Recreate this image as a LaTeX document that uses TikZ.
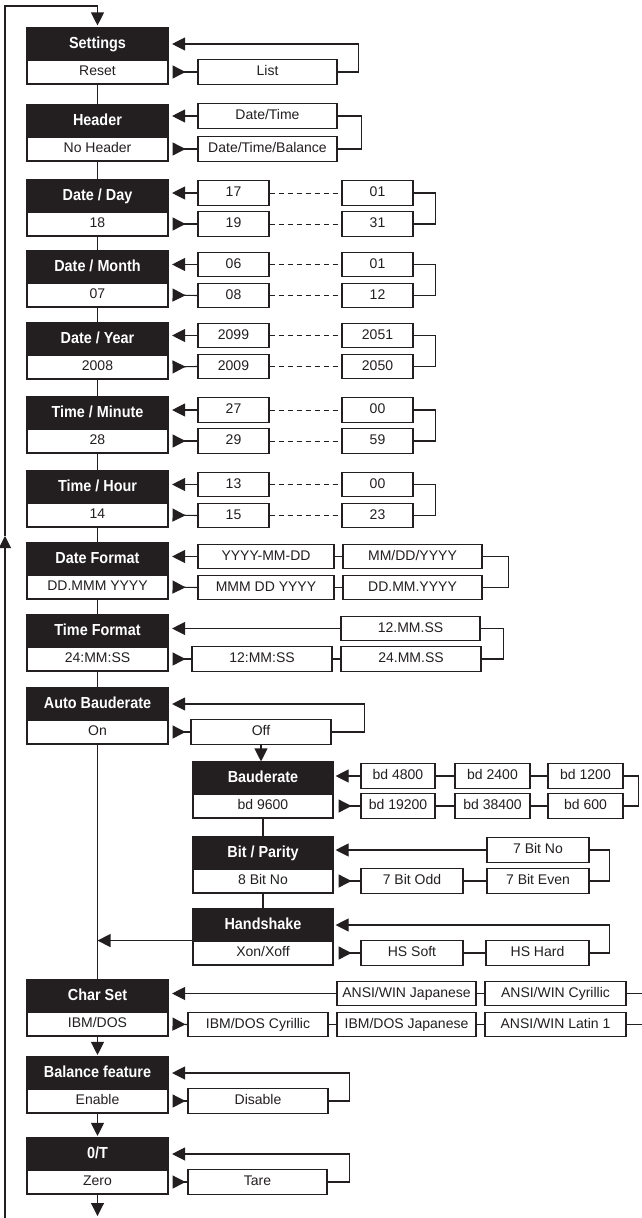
\documentclass[tikz,border=0pt]{standalone}
\usepackage{fontspec}
\setmainfont{Liberation Sans}
\newfontfamily\hdrfamily[FakeStretch=0.9]{Liberation Sans}
\usetikzlibrary{arrows.meta}
\definecolor{ink}{RGB}{35,31,32}
\begin{document}
\begin{tikzpicture}[x=1pt,y=-1pt,line width=1.1pt,color=ink,
  hdr/.style={fill=ink,draw=ink,text=white,font=\hdrfamily\bfseries\fontsize{16}{19}\selectfont,
    minimum height=32pt,inner sep=0pt,text height=11.5pt,text depth=3pt},
  val/.style={draw=ink,fill=white,text=ink,font=\fontsize{14}{16}\selectfont,
    minimum height=24pt,inner sep=0pt,text height=10pt,text depth=3pt},
  opt/.style={val,minimum height=24.5pt},
  mainw/.style={minimum width=141pt},
  subw/.style={minimum width=140pt},
  w/.style={minimum width=#1},
  back/.style={-{Triangle[length=13pt,width=13pt]},shorten >=3.5pt},
  fwd/.style={{Triangle[reversed,length=13pt,width=13pt]}-,shorten <=4pt},
  downarr/.style={-{Triangle[length=13pt,width=13pt]},shorten >=1.5pt},
  dotline/.style={dash pattern=on 5pt off 4pt,line width=1pt}
]
\useasboundingbox (0,0) rectangle (642,1218);

% ---------- main column ----------
\node[hdr,mainw] (h0) at (97.5,44) {Settings};
\node[val,mainw] (v0) at (97.5,72) {Reset};
\node[hdr,mainw] (h1) at (97.5,121) {Header};
\node[val,mainw] (v1) at (97.5,149) {No Header};
\node[hdr,mainw] (h2) at (97.5,196) {Date / Day};
\node[val,mainw] (v2) at (97.5,224) {18};
\node[hdr,mainw] (h3) at (97.5,267) {Date / Month};
\node[val,mainw] (v3) at (97.5,295) {07};
\node[hdr,mainw] (h4) at (97.5,339) {Date / Year};
\node[val,mainw] (v4) at (97.5,367) {2008};
\node[hdr,mainw] (h5) at (97.5,413) {Time / Minute};
\node[val,mainw] (v5) at (97.5,441) {28};
\node[hdr,mainw] (h6) at (97.5,487) {Time / Hour};
\node[val,mainw] (v6) at (97.5,515) {14};
\node[hdr,mainw] (h7) at (97.5,559) {Date Format};
\node[val,mainw] (v7) at (97.5,587) {DD.MMM YYYY};
\node[hdr,mainw] (h8) at (97.5,631) {Time Format};
\node[val,mainw] (v8) at (97.5,659) {24:MM:SS};
\node[hdr,mainw] (h9) at (97.5,704) {Auto Bauderate};
\node[val,mainw] (v9) at (97.5,732) {On};
\node[hdr,mainw] (h10) at (97.5,996) {Char Set};
\node[val,mainw] (v10) at (97.5,1024) {IBM/DOS};
\node[hdr,mainw] (h11) at (97.5,1073) {Balance feature};
\node[val,mainw] (v11) at (97.5,1101) {Enable};
\node[hdr,mainw] (h12) at (97.5,1154) {0/T};
\node[val,mainw] (v12) at (97.5,1182) {Zero};

% ---------- sub column ----------
\node[hdr,subw] (s1h) at (263,778) {Bauderate};
\node[val,subw] (s1v) at (263,806) {bd 9600};
\node[hdr,subw] (s2h) at (263,853) {Bit / Parity};
\node[val,subw] (s2v) at (263,881) {8 Bit No};
\node[hdr,subw] (s3h) at (263,925) {Handshake};
\node[val,subw] (s3v) at (263,953) {Xon/Xoff};

% ---------- options ----------
\node[opt,w=139pt] (list) at (267.5,72) {List};
\node[opt,w=139pt] (dt) at (267.5,116) {Date/Time};
\node[opt,w=139pt] (dtb) at (267.5,149) {Date/Time/Balance};

\node[opt,w=71pt] (a2t) at (233.5,193) {17};
\node[opt,w=71pt] (b2t) at (377.5,193) {01};
\node[opt,w=71pt] (a2b) at (233.5,224) {19};
\node[opt,w=71pt] (b2b) at (377.5,224) {31};

\node[opt,w=71pt] (a3t) at (233.5,264.5) {06};
\node[opt,w=71pt] (b3t) at (377.5,264.5) {01};
\node[opt,w=71pt] (a3b) at (233.5,295.5) {08};
\node[opt,w=71pt] (b3b) at (377.5,295.5) {12};

\node[opt,w=71pt] (a4t) at (233.5,335.5) {2099};
\node[opt,w=71pt] (b4t) at (377.5,335.5) {2051};
\node[opt,w=71pt] (a4b) at (233.5,366.5) {2009};
\node[opt,w=71pt] (b4b) at (377.5,366.5) {2050};

\node[opt,w=71pt] (a5t) at (233.5,410) {27};
\node[opt,w=71pt] (b5t) at (377.5,410) {00};
\node[opt,w=71pt] (a5b) at (233.5,441) {29};
\node[opt,w=71pt] (b5b) at (377.5,441) {59};

\node[opt,w=71pt] (a6t) at (233.5,484.5) {13};
\node[opt,w=71pt] (b6t) at (377.5,484.5) {00};
\node[opt,w=71pt] (a6b) at (233.5,515.5) {15};
\node[opt,w=71pt] (b6b) at (377.5,515.5) {23};

\node[opt,w=136pt] (y1) at (266,556.5) {YYYY-MM-DD};
\node[opt,w=139pt] (m1) at (412.5,556.5) {MM/DD/YYYY};
\node[opt,w=136pt] (m2) at (266,587.5) {MMM DD YYYY};
\node[opt,w=139pt] (d2) at (412.5,587.5) {DD.MM.YYYY};

\node[opt,w=139pt] (t1) at (410.5,628.5) {12.MM.SS};
\node[opt,w=140pt] (t2) at (262,659) {12:MM:SS};
\node[opt,w=140pt] (t3) at (411,659) {24.MM.SS};

\node[opt,w=140pt] (off) at (261,732) {Off};

\node[opt,w=74pt] (bd48) at (398,776) {bd 4800};
\node[opt,w=75pt] (bd24) at (492.5,776) {bd 2400};
\node[opt,w=75pt] (bd12) at (585.5,776) {bd 1200};
\node[opt,w=74pt] (bd192) at (398,806) {bd 19200};
\node[opt,w=75pt] (bd384) at (492.5,806) {bd 38400};
\node[opt,w=75pt] (bd6) at (585.5,806) {bd 600};

\node[opt,w=102pt] (p1) at (538,850) {7 Bit No};
\node[opt,w=102pt] (po) at (412,881) {7 Bit Odd};
\node[opt,w=102pt] (pe) at (538,881) {7 Bit Even};

\node[opt,w=102pt] (hss) at (412,953) {HS Soft};
\node[opt,w=103pt] (hsh) at (537.5,953) {HS Hard};

\node[opt,w=139pt] (aj) at (406.5,993.5) {ANSI/WIN Japanese};
\node[opt,w=141pt] (ac) at (555.5,993.5) {ANSI/WIN Cyrillic};
\node[opt,w=140pt] (ic) at (258,1024.5) {IBM/DOS Cyrillic};
\node[opt,w=139pt] (ij) at (406.5,1024.5) {IBM/DOS Japanese};
\node[opt,w=141pt] (al) at (555.5,1024.5) {ANSI/WIN Latin 1};

\node[opt,w=140pt] (dis) at (258,1101) {Disable};
\node[opt,w=139pt] (tare) at (257.5,1182) {Tare};

\coordinate (re) at (642,0);
\coordinate (lb) at (5,1218);
\coordinate (lm) at (5,536);
\coordinate (lt) at (5,6);
\coordinate (bot) at (97.5,1216);

% ---------- main vertical connectors ----------
\foreach \a/\b in {v0/h1,v1/h2,v2/h3,v3/h4,v4/h5,v5/h6,v6/h7,v7/h8,v8/h9,v9/h10}
  \draw (\a.south) -- (\b.north);
\draw[downarr] (v10.south) -- (h11.north);
\draw[downarr] (v11.south) -- (h12.north);
\draw[downarr,shorten >=0pt] (v12.south) -- (bot);

% left return loop
\draw[-{Triangle[length=12pt,width=12pt]}] (lb) -- (lm);
\draw[downarr,shorten >=2pt] (lm) -- (lt) -| (h0.north);

% ---------- Settings ----------
\draw[fwd] (v0.east) -- (list.west);
\draw[back] (list.east) -- ++(21,0) |- (h0.east);

% ---------- Header ----------
\draw[back] (dt.west) -- (dt.west -| h1.east);
\draw[fwd] (v1.east) -- (dtb.west);
\draw (dt.east) -- ++(24,0) |- (dtb.east);

% ---------- numeric rows ----------
\foreach \r in {2,3,4,5,6}{
  \draw[back] (a\r t.west) -- (a\r t.west -| h\r.east);
  \draw[fwd] (v\r.east) -- (a\r b.west);
  \draw[dotline] (a\r t.east) -- (b\r t.west);
  \draw[dotline] (a\r b.east) -- (b\r b.west);
  \draw (b\r t.east) -- ++(22,0) |- (b\r b.east);
}

% ---------- Date Format ----------
\draw[back] (y1.west) -- (y1.west -| h7.east);
\draw[fwd] (v7.east) -- (m2.west);
\draw (y1.east) -- (m1.west);
\draw (m2.east) -- (d2.west);
\draw (m1.east) -- ++(26,0) |- (d2.east);

% ---------- Time Format ----------
\draw[back] (t1.west) -- (t1.west -| h8.east);
\draw[fwd] (v8.east) -- (t2.west);
\draw (t2.east) -- (t3.west);
\draw (t1.east) -- ++(23,0) |- (t3.east);

% ---------- Auto Bauderate ----------
\draw[fwd] (v9.east) -- (off.west);
\draw[back] (off.east) -- ++(33,0) |- (h9.east);
\draw[downarr,shorten >=0pt] (off.south) -- (off.south |- s1h.north);

% ---------- Bauderate ----------
\draw[back,shorten >=2pt] (bd48.west) -- (bd48.west -| s1h.east);
\draw[fwd,shorten <=5pt] (s1v.east) -- (bd192.west);
\draw (bd48.east) -- (bd24.west);
\draw (bd24.east) -- (bd12.west);
\draw (bd192.east) -- (bd384.west);
\draw (bd384.east) -- (bd6.west);
\draw (bd12.east) -- ++(15,0) |- (bd6.east);
\draw (s1v.south) -- (s2h.north);

% ---------- Bit / Parity ----------
\draw[back,shorten >=2pt] (p1.west) -- (p1.west -| s2h.east);
\draw[fwd,shorten <=5pt] (s2v.east) -- (po.west);
\draw (po.east) -- (pe.west);
\draw (p1.east) -- ++(20,0) |- (pe.east);
\draw (s2v.south) -- (s3h.north);

% ---------- Handshake ----------
\draw[fwd,shorten <=5pt] (s3v.east) -- (hss.west);
\draw (hss.east) -- (hsh.west);
\draw[back,shorten >=2pt] (hsh.east) -- ++(20,0) |- (s3h.east);
\draw[back,shorten >=0pt] ([yshift=1pt]s3h.south west) -- ([yshift=1pt]s3h.south west -| v9.south);

% ---------- Char Set ----------
\draw[back] (aj.west) -- (aj.west -| h10.east);
\draw (aj.east) -- (ac.west);
\draw (ac.east) -- (ac.east -| re);
\draw[fwd] (v10.east) -- (ic.west);
\draw (ic.east) -- (ij.west);
\draw (ij.east) -- (al.west);
\draw (al.east) -- (al.east -| re);

% ---------- Balance feature ----------
\draw[fwd] (v11.east) -- (dis.west);
\draw[back] (dis.east) -- ++(21,0) |- (h11.east);

% ---------- 0/T ----------
\draw[fwd] (v12.east) -- (tare.west);
\draw[back] (tare.east) -- ++(22,0) |- (h12.east);
\end{tikzpicture}
\end{document}
